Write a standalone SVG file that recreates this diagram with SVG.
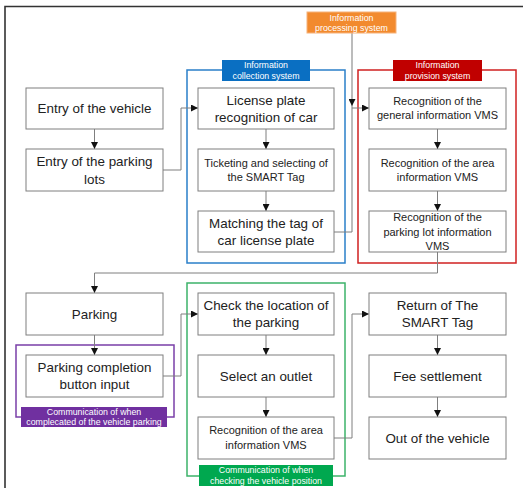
<svg xmlns="http://www.w3.org/2000/svg" width="523" height="488" viewBox="0 0 523 488">
<defs>
<marker id="ah" viewBox="0 0 10 10" refX="10" refY="5" markerWidth="7" markerHeight="7" markerUnits="userSpaceOnUse" orient="auto">
<path d="M0,0 L10,5 L0,10 z" fill="#111"/>
</marker>
</defs>
<style>
.box{fill:#fff;stroke:#7f7f7f;stroke-width:1}
.t{font-family:"Liberation Sans",Arial,sans-serif;font-size:13.4px;fill:#222;text-anchor:middle}
.s{font-family:"Liberation Sans",Arial,sans-serif;font-size:11px;fill:#222;text-anchor:middle}
.lb{font-family:"Liberation Sans",Arial,sans-serif;font-size:8.8px;fill:#fff;text-anchor:middle}
.c{fill:none;stroke:#7f7f7f;stroke-width:1}
.ca{fill:none;stroke:#7f7f7f;stroke-width:1;marker-end:url(#ah)}
</style>
<rect width="523" height="488" fill="#fff"/>
<path d="M5,488 V6.5 H523" fill="none" stroke="#333" stroke-width="1.6"/>

<g id="group-processing">
<line x1="352" y1="33" x2="352" y2="232" stroke="#b5b5b5" stroke-width="1.8"/>
<rect x="307" y="12" width="89" height="21" fill="#F28A2E" stroke="#f6b27a" stroke-width="1"/>
<text class="lb" x="351.5" y="20.5">Information</text>
<text class="lb" x="351.5" y="31">processing system</text>
</g>

<g id="group-collection">
<rect x="187" y="70" width="158" height="193" fill="none" stroke="#2a7fc9" stroke-width="1.5"/>
<rect x="222" y="60" width="88" height="21" fill="#0a6fc2"/>
<text class="lb" x="266" y="67.5">Information</text>
<text class="lb" x="266" y="79">collection system</text>
</g>

<g id="group-provision">
<rect x="358" y="70" width="158" height="193" fill="none" stroke="#d02020" stroke-width="1.5"/>
<rect x="393" y="60" width="89" height="21" fill="#c00000"/>
<text class="lb" x="437.5" y="67.5">Information</text>
<text class="lb" x="437.5" y="79">provision system</text>
</g>

<g id="group-parking-comm">
<rect x="16" y="345" width="158" height="72" fill="none" stroke="#7a3fa8" stroke-width="1.5"/>
</g>

<g id="group-position-comm">
<rect x="187" y="283" width="158" height="193" fill="none" stroke="#3cb36a" stroke-width="1.5"/>
</g>

<g id="connectors">
<line class="ca" x1="94.5" y1="129" x2="94.5" y2="149"/>
<polyline class="ca" points="163,170 181,170 181,108 198,108"/>
<line class="ca" x1="266" y1="129" x2="266" y2="149"/>
<line class="ca" x1="266" y1="191" x2="266" y2="211"/>
<polyline class="c" points="334,232 352,232"/>
<line x1="352" y1="95" x2="352" y2="106" stroke="#b5b5b5" stroke-width="1" marker-end="url(#ah)"/>
<polyline class="ca" points="352,108 369,108"/>
<line class="ca" x1="437.5" y1="129" x2="437.5" y2="149"/>
<line class="ca" x1="437.5" y1="191" x2="437.5" y2="211"/>
<polyline class="ca" points="437.5,252 437.5,273 94.5,273 94.5,293"/>
<line class="ca" x1="94.5" y1="335" x2="94.5" y2="355"/>
<polyline class="ca" points="163,376 181,376 181,314 198,314"/>
<line class="ca" x1="266" y1="335" x2="266" y2="355"/>
<line class="ca" x1="266" y1="397" x2="266" y2="417"/>
<polyline class="ca" points="334,438 352,438 352,314 369,314"/>
<line class="ca" x1="437.5" y1="335" x2="437.5" y2="355"/>
<line class="ca" x1="437.5" y1="397" x2="437.5" y2="417"/>
</g>

<g id="n-entry-vehicle">
<rect class="box" x="26" y="88" width="137" height="41"/>
<text class="t" x="94.5" y="113">Entry of the vehicle</text>
</g>
<g id="n-entry-lots">
<rect class="box" x="26" y="149" width="137" height="42"/>
<text class="t" x="94.5" y="166">Entry of the parking</text>
<text class="t" x="94.5" y="183.5">lots</text>
</g>
<g id="n-license">
<rect class="box" x="198" y="88" width="136" height="41"/>
<text class="t" x="266" y="104.5">License plate</text>
<text class="t" x="266" y="122">recognition of car</text>
</g>
<g id="n-ticketing">
<rect class="box" x="198" y="149" width="136" height="42"/>
<text class="s" x="266" y="166.5">Ticketing and selecting of</text>
<text class="s" x="266" y="181">the SMART Tag</text>
</g>
<g id="n-matching">
<rect class="box" x="198" y="211" width="136" height="41"/>
<text class="t" x="266" y="227.5">Matching the tag of</text>
<text class="t" x="266" y="245">car license plate</text>
</g>
<g id="n-vms-general">
<rect class="box" x="369" y="88" width="137" height="41"/>
<text class="s" x="437.5" y="104.5">Recognition of the</text>
<text class="s" x="437.5" y="119">general information VMS</text>
</g>
<g id="n-vms-area">
<rect class="box" x="369" y="149" width="137" height="42"/>
<text class="s" x="437.5" y="166.5">Recognition of the area</text>
<text class="s" x="437.5" y="181">information VMS</text>
</g>
<g id="n-vms-lot">
<rect class="box" x="369" y="211" width="137" height="41"/>
<text class="s" x="437.5" y="221">Recognition of the</text>
<text class="s" x="437.5" y="235.5">parking lot information</text>
<text class="s" x="437.5" y="250">VMS</text>
</g>
<g id="n-parking">
<rect class="box" x="26" y="293" width="137" height="42"/>
<text class="t" x="94.5" y="318.5">Parking</text>
</g>
<g id="n-completion">
<rect class="box" x="26" y="355" width="137" height="42"/>
<text class="t" x="94.5" y="371.5">Parking completion</text>
<text class="t" x="94.5" y="389">button input</text>
</g>
<g id="n-check">
<rect class="box" x="198" y="293" width="136" height="42"/>
<text class="t" x="266" y="309.5">Check the location of</text>
<text class="t" x="266" y="327">the parking</text>
</g>
<g id="n-outlet">
<rect class="box" x="198" y="355" width="136" height="42"/>
<text class="t" x="266" y="380.5">Select an outlet</text>
</g>
<g id="n-area-vms2">
<rect class="box" x="198" y="417" width="136" height="42"/>
<text class="s" x="266" y="434">Recognition of the area</text>
<text class="s" x="266" y="448.5">information VMS</text>
</g>
<g id="n-return">
<rect class="box" x="369" y="293" width="137" height="42"/>
<text class="t" x="437.5" y="309.5">Return of The</text>
<text class="t" x="437.5" y="327">SMART Tag</text>
</g>
<g id="n-fee">
<rect class="box" x="369" y="355" width="137" height="42"/>
<text class="t" x="437.5" y="380.5">Fee settlement</text>
</g>
<g id="n-out">
<rect class="box" x="369" y="417" width="137" height="42"/>
<text class="t" x="437.5" y="442.5">Out of the vehicle</text>
</g>

<g id="label-parking-comm">
<rect x="21" y="407" width="146" height="20" fill="#7030A0"/>
<text class="lb" x="94" y="414.5">Communication of when</text>
<text class="lb" x="94" y="425">complecated of the vehicle parking</text>
</g>
<g id="label-position-comm">
<rect x="199" y="465" width="134" height="21" fill="#00A84F"/>
<text class="lb" x="266" y="472.5">Communication of when</text>
<text class="lb" x="266" y="483.5">checking the vehicle position</text>
</g>
</svg>
